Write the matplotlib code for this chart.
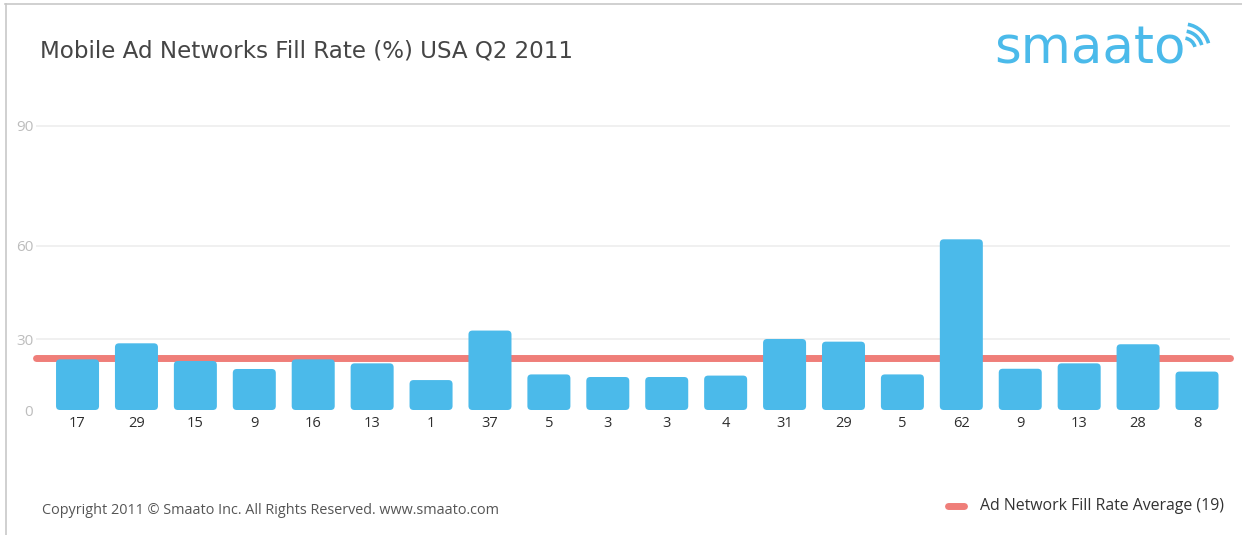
import numpy as np
import matplotlib
matplotlib.use("Agg")
import matplotlib.pyplot as plt
from matplotlib.patches import FancyBboxPatch, Arc
from matplotlib.transforms import IdentityTransform
from matplotlib.lines import Line2D

# ---------------- data ----------------
# numbers printed under each bar (category tick labels)
labels = ["17", "29", "15", "9", "16", "13", "1", "37", "5", "3",
          "3", "4", "31", "29", "5", "62", "9", "13", "28", "8"]
# bar heights
heights = [21.5, 28.3, 20.8, 17.4, 21.5, 19.8, 12.7, 32.8, 15.1, 14.0,
           14.0, 14.6, 30.1, 29.0, 15.1, 61.6, 17.5, 19.8, 27.9, 16.3]
avg_level = 21.9
avg_label = "Ad Network Fill Rate Average (19)"
yticks = [0, 30, 60, 90]
# the original y axis is non-uniform: tick value -> relative distance
scale_vals = [-30, 0, 30, 60, 90, 150]
scale_pos = [-70.7, 0, 70.7, 164.3, 284, 524]

title = "Mobile Ad Networks Fill Rate (%) USA Q2 2011"
copyright_txt = "Copyright 2011 \u00a9 Smaato Inc. All Rights Reserved. www.smaato.com"
logo_txt = "smaato"

BAR = "#4BBAEA"
RED = (233 / 255, 71 / 255, 65 / 255)
W, H = 1242, 535

# ---------------- figure ----------------
fig = plt.figure(figsize=(W / 100, H / 100), dpi=100)
fig.patch.set_facecolor("white")

ax = fig.add_axes([36 / W, 125 / H, 1194 / W, 304 / H])


def fwd(v):
    return np.interp(v, scale_vals, scale_pos)


def inv(p):
    return np.interp(p, scale_pos, scale_vals)


ax.set_yscale("function", functions=(fwd, inv))

x = np.arange(len(labels))
bars = ax.bar(x, heights, width=0.73, color=BAR, zorder=2)
ax.set_xlim(-0.705, len(labels) - 1 + 0.56)
ax.set_ylim(0, 95)
ax.set_yticks(yticks)
ax.set_yticklabels([str(t) for t in yticks])
ax.set_xticks(x)
ax.set_xticklabels(labels)

for s in ax.spines.values():
    s.set_visible(False)
ax.tick_params(axis="y", length=0, pad=2, labelsize=11, labelcolor="#bdbdbd")
ax.tick_params(axis="x", length=0, pad=4, labelsize=10.5, labelcolor="#2e2e2e")
for t in ax.get_yticklabels() + ax.get_xticklabels():
    t.set_fontfamily("Open Sans")

for t in yticks[1:]:
    ax.axhline(t, color="#efefef", lw=1.3, zorder=0)

ax.axhline(avg_level, color=RED, alpha=0.7, lw=5, solid_capstyle="round",
           clip_on=False, zorder=4)

# rounded bar corners: redraw each bar as rounded box at its own extent
fig.canvas.draw()
renderer = fig.canvas.get_renderer()
for r in bars:
    bb = r.get_window_extent(renderer)
    p = FancyBboxPatch((bb.x0, bb.y0), bb.width, bb.height,
                       boxstyle="round,pad=0,rounding_size=4",
                       transform=IdentityTransform(), fc=BAR, ec="none",
                       zorder=2)
    fig.add_artist(p)
    r.set_visible(False)

# ---------------- texts ----------------
fig.text(40 / W, 1 - 51 / H, title, fontsize=16.6, color="#454545",
         family="DejaVu Sans", va="center", ha="left")
fig.text(42 / W, 1 - 511 / H, copyright_txt, fontsize=10.4, color="#555555",
         family="Open Sans", va="center", ha="left")

# legend
fig.add_artist(Line2D([948 / W, 964 / W], [1 - 506 / H, 1 - 506 / H],
                      color=RED, alpha=0.7, lw=5, solid_capstyle="round"))
fig.text(980 / W, 1 - 506 / H, avg_label, fontsize=11.4, color="#333333",
         family="Open Sans", va="center", ha="left")

# logo
logo = fig.text(994 / W, 1 - 63 / H, logo_txt, fontsize=37, color=BAR,
                family="DejaVu Sans", va="baseline", ha="left")
fig.canvas.draw()
lb = logo.get_window_extent(renderer)
cx, cy = lb.x1 - 2, H - 50
for rad in (12, 19, 26):
    fig.add_artist(Arc((cx, cy), 2 * rad, 2 * rad, theta1=15, theta2=80,
                       transform=IdentityTransform(), color=BAR, lw=2.6))

# frame
fig.add_artist(Line2D([5 / W, 1], [1 - 4 / H, 1 - 4 / H], color="#c8c8c8", lw=1.2))
fig.add_artist(Line2D([6 / W, 6 / W], [0, 1 - 4 / H], color="#c8c8c8", lw=1.2))

fig.savefig("out.png", dpi=100, facecolor="white")
